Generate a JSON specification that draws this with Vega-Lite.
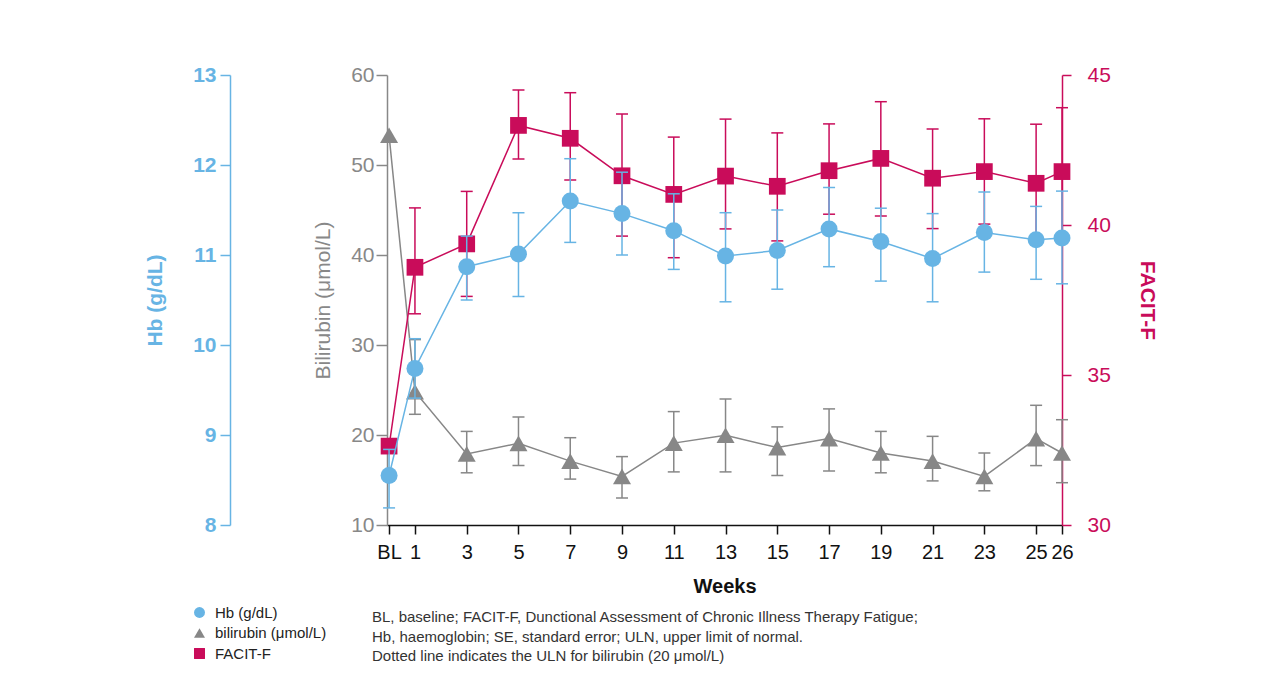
{
  "$schema": "https://vega.github.io/schema/vega-lite/v6.json",
  "width": 675,
  "height": 450,
  "autosize": {"type": "none"},
  "padding": {"left": 387, "top": 75, "right": 219, "bottom": 161},
  "background": "white",
  "config": {"font": "Liberation Sans", "view": {"stroke": null}, "axis": {"grid": false}},
  "datasets": {
    "d": [
      {"week": 0, "hb": 8.55, "hb_lo": 8.19, "hb_hi": 8.84, "bili": 53.3, "bili_lo": null, "bili_hi": null, "facit": 32.63, "facit_lo": null, "facit_hi": null},
      {"week": 1, "hb": 9.74, "hb_lo": 9.41, "hb_hi": 10.07, "bili": 24.8, "bili_lo": 22.3, "bili_hi": 30.6, "facit": 38.59, "facit_lo": 37.04, "facit_hi": 40.57},
      {"week": 3, "hb": 10.87, "hb_lo": 10.5, "hb_hi": 11.21, "bili": 17.9, "bili_lo": 15.8, "bili_hi": 20.4, "facit": 39.37, "facit_lo": 37.62, "facit_hi": 41.12},
      {"week": 5, "hb": 11.01, "hb_lo": 10.54, "hb_hi": 11.47, "bili": 19.07, "bili_lo": 16.6, "bili_hi": 22.0, "facit": 43.32, "facit_lo": 42.2, "facit_hi": 44.5},
      {"week": 7, "hb": 11.6, "hb_lo": 11.14, "hb_hi": 12.07, "bili": 17.1, "bili_lo": 15.1, "bili_hi": 19.7, "facit": 42.89, "facit_lo": 41.5, "facit_hi": 44.41},
      {"week": 9, "hb": 11.46, "hb_lo": 11.0, "hb_hi": 11.92, "bili": 15.4, "bili_lo": 13.0, "bili_hi": 17.6, "facit": 41.64, "facit_lo": 39.63, "facit_hi": 43.7},
      {"week": 11, "hb": 11.27, "hb_lo": 10.84, "hb_hi": 11.68, "bili": 19.1, "bili_lo": 15.9, "bili_hi": 22.6, "facit": 41.02, "facit_lo": 38.91, "facit_hi": 42.93},
      {"week": 13, "hb": 10.99, "hb_lo": 10.48, "hb_hi": 11.47, "bili": 19.97, "bili_lo": 15.9, "bili_hi": 24.0, "facit": 41.63, "facit_lo": 39.87, "facit_hi": 43.53},
      {"week": 15, "hb": 11.05, "hb_lo": 10.62, "hb_hi": 11.5, "bili": 18.6, "bili_lo": 15.5, "bili_hi": 20.9, "facit": 41.29, "facit_lo": 39.47, "facit_hi": 43.07},
      {"week": 17, "hb": 11.29, "hb_lo": 10.87, "hb_hi": 11.75, "bili": 19.6, "bili_lo": 16.0, "bili_hi": 22.9, "facit": 41.81, "facit_lo": 40.36, "facit_hi": 43.37},
      {"week": 19, "hb": 11.15, "hb_lo": 10.71, "hb_hi": 11.52, "bili": 18.0, "bili_lo": 15.8, "bili_hi": 20.4, "facit": 42.22, "facit_lo": 40.3, "facit_hi": 44.11},
      {"week": 21, "hb": 10.96, "hb_lo": 10.48, "hb_hi": 11.46, "bili": 17.1, "bili_lo": 14.9, "bili_hi": 19.85, "facit": 41.56, "facit_lo": 39.88, "facit_hi": 43.2},
      {"week": 23, "hb": 11.25, "hb_lo": 10.81, "hb_hi": 11.7, "bili": 15.4, "bili_lo": 13.8, "bili_hi": 18.0, "facit": 41.78, "facit_lo": 40.03, "facit_hi": 43.54},
      {"week": 25, "hb": 11.17, "hb_lo": 10.73, "hb_hi": 11.54, "bili": 19.6, "bili_lo": 16.6, "bili_hi": 23.3, "facit": 41.39, "facit_lo": 39.6, "facit_hi": 43.36},
      {"week": 26, "hb": 11.19, "hb_lo": 10.68, "hb_hi": 11.71, "bili": 18.0, "bili_lo": 14.7, "bili_hi": 21.7, "facit": 41.78, "facit_lo": 39.65, "facit_hi": 43.91}
    ]
  },
  "data": {"name": "d"},
  "title": {
    "text": ["BL, baseline; FACIT-F, Dunctional Assessment of Chronic Illness Therapy Fatigue;", "Hb, haemoglobin; SE, standard error; ULN, upper limit of normal.", "Dotted line indicates the ULN for bilirubin (20 μmol/L)"],
    "orient": "bottom", "anchor": "start", "frame": "group", "dx": -15, "offset": -52,
    "fontSize": 15, "fontWeight": "normal", "color": "#333", "lineHeight": 19.5
  },
  "encoding": {
    "x": {"field": "week", "type": "quantitative", "title": "Weeks", "scale": {"domain": [-0.08, 26], "nice": false, "zero": false},
      "axis": {"values": [0, 1, 3, 5, 7, 9, 11, 13, 15, 17, 19, 21, 23, 25, 26], "labelExpr": "datum.value == 0 ? 'BL' : datum.label",
        "title": "Weeks", "titleFontSize": 20, "titleFontWeight": "bold", "titleColor": "#111", "labelColor": "#111", "labelFontSize": 20,
        "domainColor": "#111", "domainWidth": 1.5, "tickColor": "#111", "tickWidth": 1.5, "tickSize": 9, "labelPadding": 8, "titlePadding": 14,
        "labelFlush": false, "labelOverlap": false, "grid": false}}
  },
  "layer": [
    {
      "layer": [
        {
          "data": {"values": [{}]},
          "mark": {"type": "rule", "color": "#c8c8c8", "strokeWidth": 3, "strokeDash": [3, 3]},
          "encoding": {
            "x": {"datum": 0, "type": "quantitative", "title": "Weeks"},
            "x2": {"datum": 26},
            "y": {"datum": 20, "type": "quantitative", "title": "Bilirubin (μmol/L)"}
          }
        },
        {
          "data": {"values": [{}]},
          "mark": {"type": "text", "text": "ULN", "color": "#888888", "fontSize": 20, "fontWeight": "bold", "align": "left", "baseline": "middle", "dx": 30},
          "encoding": {
            "x": {"datum": 26, "type": "quantitative", "title": "Weeks"},
            "y": {"datum": 20, "type": "quantitative", "title": "Bilirubin (μmol/L)"}
          }
        },
        {
          "mark": {"type": "line", "color": "#878787", "strokeWidth": 1.5},
          "encoding": {
            "y": {"field": "bili", "type": "quantitative", "title": "Bilirubin (μmol/L)", "scale": {"domain": [10, 60], "nice": false, "zero": false},
              "axis": {"orient": "left", "values": [10, 20, 30, 40, 50, 60], "format": "d", "title": "Bilirubin (μmol/L)", "titleColor": "#888888", "titleFontSize": 21, "titleFontWeight": "normal",
                "labelColor": "#888888", "labelFontSize": 21, "domainColor": "#888888", "domainWidth": 1.5, "tickColor": "#888888", "tickWidth": 1.5, "tickSize": 11,
                "labelPadding": 2, "titlePadding": 17, "grid": false}}
          }
        },
        {
          "transform": [{"filter": "isValid(datum.bili_lo)"}],
          "mark": {"type": "rule", "color": "#878787", "strokeWidth": 1.5},
          "encoding": {
            "y": {"field": "bili_lo", "type": "quantitative", "title": "Bilirubin (μmol/L)"},
            "y2": {"field": "bili_hi"}
          }
        },
        {
          "transform": [{"filter": "isValid(datum.bili_lo)"}],
          "mark": {"type": "tick", "orient": "horizontal", "color": "#878787", "size": 12, "thickness": 1.5, "opacity": 1},
          "encoding": {"y": {"field": "bili_lo", "type": "quantitative", "title": "Bilirubin (μmol/L)"}}
        },
        {
          "transform": [{"filter": "isValid(datum.bili_hi)"}],
          "mark": {"type": "tick", "orient": "horizontal", "color": "#878787", "size": 12, "thickness": 1.5, "opacity": 1},
          "encoding": {"y": {"field": "bili_hi", "type": "quantitative", "title": "Bilirubin (μmol/L)"}}
        },
        {
          "mark": {"type": "point", "filled": true, "opacity": 1, "size": 324},
          "encoding": {
            "y": {"field": "bili", "type": "quantitative", "title": "Bilirubin (μmol/L)"},
            "color": {"datum": "bilirubin (μmol/L)"},
            "shape": {"datum": "bilirubin (μmol/L)"}
          }
        }
      ]
    },
    {
      "layer": [
        {
          "mark": {"type": "line", "color": "#c90c5a", "strokeWidth": 1.5},
          "encoding": {
            "y": {"field": "facit", "type": "quantitative", "title": "FACIT-F", "scale": {"domain": [30, 45], "nice": false, "zero": false},
              "axis": {"orient": "right", "values": [30, 35, 40, 45], "format": "d", "title": "FACIT-F", "titleColor": "#c90c5a", "titleFontSize": 21, "titleFontWeight": "bold",
                "labelColor": "#c90c5a", "labelFontSize": 21, "domainColor": "#c90c5a", "domainWidth": 1.5, "tickColor": "#c90c5a", "tickWidth": 1.5, "tickSize": 9,
                "labelPadding": 16, "titlePadding": 26, "grid": false}}
          }
        },
        {
          "transform": [{"filter": "isValid(datum.facit_lo)"}],
          "mark": {"type": "rule", "color": "#c90c5a", "strokeWidth": 1.5},
          "encoding": {
            "y": {"field": "facit_lo", "type": "quantitative", "title": "FACIT-F"},
            "y2": {"field": "facit_hi"}
          }
        },
        {
          "transform": [{"filter": "isValid(datum.facit_lo)"}],
          "mark": {"type": "tick", "orient": "horizontal", "color": "#c90c5a", "size": 12, "thickness": 1.5, "opacity": 1},
          "encoding": {"y": {"field": "facit_lo", "type": "quantitative", "title": "FACIT-F"}}
        },
        {
          "transform": [{"filter": "isValid(datum.facit_hi)"}],
          "mark": {"type": "tick", "orient": "horizontal", "color": "#c90c5a", "size": 12, "thickness": 1.5, "opacity": 1},
          "encoding": {"y": {"field": "facit_hi", "type": "quantitative", "title": "FACIT-F"}}
        },
        {
          "mark": {"type": "point", "filled": true, "opacity": 1, "size": 280},
          "encoding": {
            "y": {"field": "facit", "type": "quantitative", "title": "FACIT-F"},
            "color": {"datum": "FACIT-F"},
            "shape": {"datum": "FACIT-F"}
          }
        }
      ]
    },
    {
      "layer": [
        {
          "mark": {"type": "line", "color": "#67b4e4", "strokeWidth": 1.5},
          "encoding": {
            "y": {"field": "hb", "type": "quantitative", "title": "Hb (g/dL)", "scale": {"domain": [8, 13], "nice": false, "zero": false},
              "axis": {"orient": "left", "offset": 157, "values": [8, 9, 10, 11, 12, 13], "format": "d", "title": "Hb (g/dL)", "titleColor": "#67b4e4", "titleFontSize": 21, "titleFontWeight": "bold",
                "labelColor": "#67b4e4", "labelFontSize": 21, "labelFontWeight": "bold", "domainColor": "#67b4e4", "domainWidth": 1.5, "tickColor": "#67b4e4", "tickWidth": 1.5, "tickSize": 10,
                "labelPadding": 4, "titlePadding": 27, "grid": false}}
          }
        },
        {
          "mark": {"type": "rule", "color": "#67b4e4", "strokeWidth": 1.5},
          "encoding": {
            "y": {"field": "hb_lo", "type": "quantitative", "title": "Hb (g/dL)"},
            "y2": {"field": "hb_hi"}
          }
        },
        {
          "mark": {"type": "tick", "orient": "horizontal", "color": "#67b4e4", "size": 12, "thickness": 1.5, "opacity": 1},
          "encoding": {"y": {"field": "hb_lo", "type": "quantitative", "title": "Hb (g/dL)"}}
        },
        {
          "mark": {"type": "tick", "orient": "horizontal", "color": "#67b4e4", "size": 12, "thickness": 1.5, "opacity": 1},
          "encoding": {"y": {"field": "hb_hi", "type": "quantitative", "title": "Hb (g/dL)"}}
        },
        {
          "mark": {"type": "point", "filled": true, "opacity": 1, "size": 289},
          "encoding": {
            "y": {"field": "hb", "type": "quantitative", "title": "Hb (g/dL)"},
            "color": {"datum": "Hb (g/dL)", "scale": {"domain": ["Hb (g/dL)", "bilirubin (μmol/L)", "FACIT-F"], "range": ["#67b4e4", "#878787", "#c90c5a"]},
              "legend": {"orient": "none", "legendX": -195, "legendY": 530, "title": null, "padding": 0, "symbolSize": 120, "labelFontSize": 15, "labelColor": "#222", "labelOffset": 8, "rowPadding": 4.5, "symbolStrokeWidth": 0}},
            "shape": {"datum": "Hb (g/dL)", "scale": {"domain": ["Hb (g/dL)", "bilirubin (μmol/L)", "FACIT-F"], "range": ["circle", "triangle-up", "square"]},
              "legend": {"orient": "none", "legendX": -195, "legendY": 530, "title": null, "padding": 0, "symbolSize": 120, "labelFontSize": 15, "labelColor": "#222", "labelOffset": 8, "rowPadding": 4.5, "symbolStrokeWidth": 0}}
          }
        }
      ]
    }
  ],
  "resolve": {"scale": {"y": "independent"}, "axis": {"y": "independent"}}
}
